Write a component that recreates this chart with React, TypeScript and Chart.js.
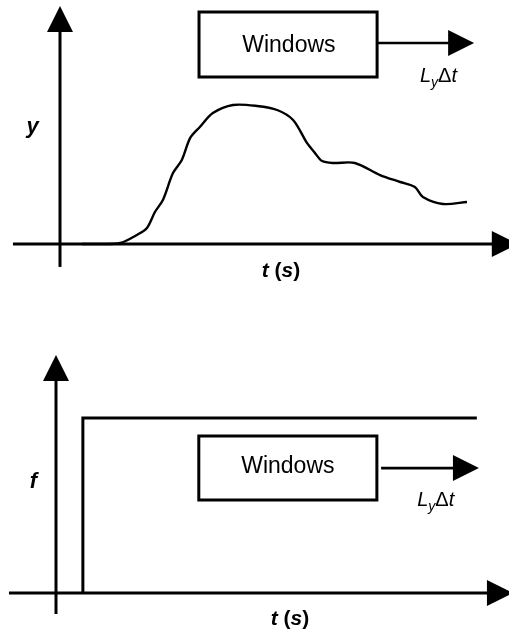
import React, { useEffect, useRef } from "react";
import { Chart, registerables } from "chart.js";

Chart.register(...registerables);

// ---------- Top panel data (t in s, y response) ----------
const TOP_T = [5.2, 9.5, 14.3, 18.3, 20.7, 22.6, 24.5, 26.9, 29.0, 31.0, 33.3, 36.4, 41.2, 46.9, 51.7, 55.5, 58.8, 60.7, 62.4, 65.0, 70.2, 76.2, 81.0, 84.5, 86.4, 91.2, 96.9];
const TOP_Y = [0, 0, 0.7, 6.5, 11.5, 23, 31.7, 51, 60.4, 76.3, 84.2, 94.2, 100, 99.3, 96.4, 89.2, 72.7, 65.5, 59.7, 58.3, 58.3, 49.6, 44.6, 41.0, 33.8, 28.8, 30.2];

// ---------- Bottom panel data (t in s, f step) ----------
const BOT_T = [6.4, 6.4, 100.2];
const BOT_F = [0, 100, 100];

// Window boxes [t0, t1, v0, v1]
const TOP_WINDOW = [33.1, 75.5, 120.1, 166.9];
const BOT_WINDOW = [34.0, 76.4, 53.1, 89.7];

// Window shift arrows [tStart, tTip, level]
const TOP_SHIFT = [75.5, 98.6, 144.6];
const BOT_SHIFT = [77.4, 100.7, 71.4];

// Axes: x-axis [tStart, tTip], y-axis [vStart, vTip]
const TOP_XAXIS = [-11.2, 109.0];
const TOP_YAXIS = [-16.5, 171.2];
const BOT_XAXIS = [-11.2, 108.8];
const BOT_YAXIS = [-12.0, 136.0];

const LABEL_WINDOW = "Windows";
const LABEL_Y = "y";
const LABEL_F = "f";

type Run = { text: string; font: string; dy?: number };
type Label = { x: number; y: number; align: "center" | "left"; runs: Run[] };

const FAM = '"Liberation Sans", Arial, sans-serif';
const HEAD_L = 26;
const HEAD_W = 13;

const tsRuns = (): Run[] => [
  { text: "t", font: `italic bold 21px ${FAM}` },
  { text: " (", font: `bold 21px ${FAM}` },
  { text: "s", font: `italic bold 21px ${FAM}` },
  { text: ")", font: `bold 21px ${FAM}` },
];
const lyRuns = (): Run[] => [
  { text: "L", font: `italic 20px ${FAM}` },
  { text: "y", font: `italic 14px ${FAM}`, dy: 5 },
  { text: "\u0394", font: `20px ${FAM}` },
  { text: "t", font: `italic 20px ${FAM}` },
];

const diagramPlugin = {
  id: "diagram",
  afterDatasetsDraw(chart: any, _args: any, opts: any) {
    const { ctx } = chart;
    const xs = chart.scales.x;
    const ys = chart.scales.y;
    const px = (v: number) => xs.getPixelForValue(v);
    const py = (v: number) => ys.getPixelForValue(v);
    ctx.save();
    ctx.fillStyle = "#000";
    for (const a of opts.arrows || []) {
      const x = px(a.x);
      const y = py(a.y);
      ctx.beginPath();
      if (a.dir === "right") {
        ctx.moveTo(x, y);
        ctx.lineTo(x - HEAD_L, y - HEAD_W);
        ctx.lineTo(x - HEAD_L, y + HEAD_W);
      } else {
        ctx.moveTo(x, y);
        ctx.lineTo(x - HEAD_W, y + HEAD_L);
        ctx.lineTo(x + HEAD_W, y + HEAD_L);
      }
      ctx.closePath();
      ctx.fill();
    }
    ctx.textBaseline = "alphabetic";
    ctx.textAlign = "left";
    for (const l of (opts.labels || []) as Label[]) {
      let total = 0;
      const widths = l.runs.map((r) => {
        ctx.font = r.font;
        const w = ctx.measureText(r.text).width;
        total += w;
        return w;
      });
      let x = px(l.x);
      if (l.align === "center") x -= total / 2;
      const y = py(l.y);
      l.runs.forEach((r, i) => {
        ctx.font = r.font;
        ctx.fillText(r.text, x, y + (r.dy || 0));
        x += widths[i];
      });
    }
    ctx.restore();
  },
};

const pts = (xs: number[], ys: number[]) => xs.map((x, i) => ({ x, y: ys[i] }));
// start and end mid-way along the top edge so every corner is a proper join
const boxPts = (b: number[]) => {
  const mid = (b[0] + b[1]) / 2;
  return [
    { x: mid, y: b[3] },
    { x: b[1], y: b[3] },
    { x: b[1], y: b[2] },
    { x: b[0], y: b[2] },
    { x: b[0], y: b[3] },
    { x: mid, y: b[3] },
  ];
};

const lineDs = (data: any[], width: number, tension = 0) => ({
  data,
  borderColor: "#000",
  borderWidth: width,
  pointRadius: 0,
  fill: false,
  tension,
  borderJoinStyle: "miter" as const,
  borderCapStyle: "butt" as const,
});

function makeConfig(
  xRange: number[],
  yRange: number[],
  datasets: any[],
  arrows: any[],
  labels: Label[]
): any {
  return {
    type: "line",
    data: { datasets },
    options: {
      animation: false,
      responsive: false,
      devicePixelRatio: 1,
      layout: { padding: 0 },
      events: [],
      scales: {
        x: { type: "linear", min: xRange[0], max: xRange[1], display: false },
        y: { type: "linear", min: yRange[0], max: yRange[1], display: false },
      },
      plugins: {
        legend: { display: false },
        tooltip: { enabled: false },
        diagram: { arrows, labels },
      },
    },
    plugins: [diagramPlugin],
  };
}

export default function App() {
  const topRef = useRef<HTMLCanvasElement>(null);
  const botRef = useRef<HTMLCanvasElement>(null);

  useEffect(() => {
    // top: origin px (60,244); 4.2 px per s; 1.39 px per unit
    const topCfg = makeConfig(
      [-60 / 4.2, (509 - 60) / 4.2],
      [-56 / 1.39, 244 / 1.39],
      [
        lineDs(pts(TOP_T, TOP_Y), 2.4, 0.3),
        lineDs([{ x: TOP_XAXIS[0], y: 0 }, { x: TOP_XAXIS[1] - 5, y: 0 }], 3),
        lineDs([{ x: 0, y: TOP_YAXIS[0] }, { x: 0, y: TOP_YAXIS[1] - 15 }], 3),
        lineDs(boxPts(TOP_WINDOW), 3),
        lineDs([{ x: TOP_SHIFT[0], y: TOP_SHIFT[2] }, { x: TOP_SHIFT[1] - 5, y: TOP_SHIFT[2] }], 2.7),
      ],
      [
        { x: TOP_XAXIS[1], y: 0, dir: "right" },
        { x: 0, y: TOP_YAXIS[1], dir: "up" },
        { x: TOP_SHIFT[1], y: TOP_SHIFT[2], dir: "right" },
      ],
      [
        { x: 54.5, y: 138.1, align: "center", runs: [{ text: LABEL_WINDOW, font: `23px ${FAM}` }] },
        { x: 85.7, y: 116.5, align: "left", runs: lyRuns() },
        { x: -6.5, y: 79.9, align: "center", runs: [{ text: LABEL_Y, font: `italic bold 22px ${FAM}` }] },
        { x: 52.6, y: -23.7, align: "center", runs: tsRuns() },
      ]
    );
    // bottom: origin px (56,293 in canvas); 4.2 px per s; 1.75 px per unit
    const botCfg = makeConfig(
      [-56 / 4.2, (509 - 56) / 4.2],
      [-37 / 1.75, 293 / 1.75],
      [
        lineDs(pts(BOT_T, BOT_F), 3),
        lineDs([{ x: BOT_XAXIS[0], y: 0 }, { x: BOT_XAXIS[1] - 5, y: 0 }], 3),
        lineDs([{ x: 0, y: BOT_YAXIS[0] }, { x: 0, y: BOT_YAXIS[1] - 12 }], 3),
        lineDs(boxPts(BOT_WINDOW), 3),
        lineDs([{ x: BOT_SHIFT[0], y: BOT_SHIFT[2] }, { x: BOT_SHIFT[1] - 5, y: BOT_SHIFT[2] }], 2.7),
      ],
      [
        { x: BOT_XAXIS[1], y: 0, dir: "right" },
        { x: 0, y: BOT_YAXIS[1], dir: "up" },
        { x: BOT_SHIFT[1], y: BOT_SHIFT[2], dir: "right" },
      ],
      [
        { x: 55.2, y: 68.6, align: "center", runs: [{ text: LABEL_WINDOW, font: `23px ${FAM}` }] },
        { x: 86.0, y: 49.5, align: "left", runs: lyRuns() },
        { x: -5.4, y: 60, align: "center", runs: [{ text: LABEL_F, font: `italic bold 22px ${FAM}` }] },
        { x: 55.7, y: -18.3, align: "center", runs: tsRuns() },
      ]
    );
    const c1 = new Chart(topRef.current!, topCfg);
    const c2 = new Chart(botRef.current!, botCfg);
    return () => {
      c1.destroy();
      c2.destroy();
    };
  }, []);

  return (
    <div style={{ position: "absolute", left: 0, top: 0, width: 509, height: 630, background: "#fff" }}>
      <canvas ref={topRef} width={509} height={300} style={{ display: "block", width: 509, height: 300 }} />
      <canvas ref={botRef} width={509} height={330} style={{ display: "block", width: 509, height: 330 }} />
    </div>
  );
}
